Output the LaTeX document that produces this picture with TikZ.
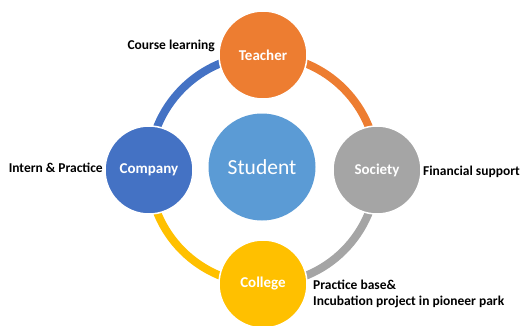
\documentclass[tikz,border=0pt]{standalone}
\usepackage{fontspec}
\setmainfont{Carlito}
\usepackage{xcolor}
\usepackage{tikz}
\usetikzlibrary{positioning, backgrounds}

\definecolor{teacherorange}{HTML}{ED7D31}
\definecolor{companyblue}{HTML}{4472C4}
\definecolor{societygray}{HTML}{A5A5A5}
\definecolor{collegegold}{HTML}{FFC000}
\definecolor{studentblue}{HTML}{5B9BD5}

\begin{document}
\begin{tikzpicture}[
    x=1pt, y=1pt,
    party/.style={
        circle,
        draw=white,
        line width=1.5pt,
        minimum size=88pt,
        text=white,
        font=\fontsize{15}{18}\selectfont\bfseries
    },
    ring/.style={
        line width=8pt
    },
    note/.style={
        font=\fontsize{13.5}{16}\selectfont\bfseries,
        align=left,
        inner sep=0pt
    }
]
  \useasboundingbox (0,0) rectangle (520,325);

  \node[circle, fill=studentblue, minimum size=107pt, text=white,
        font=\fontsize{21.5}{24}\selectfont] (student) at (262,158) {Student};
  \node[party, fill=teacherorange] (teacher) at (263,270) {Teacher};
  \node[party, fill=companyblue] (company) at (149,155) {Company};
  \node[party, fill=societygray] (society) at (377,155) {Society};
  \node[party, fill=collegegold] (college) at (263,41) {College};

  \node[note, anchor=east] (learning) at (215,279) {Course learning};
  \node[note, anchor=east] (intern) at (103,157) {Intern \& Practice};
  \node[note, anchor=west] (support) at (423,153) {Financial support};
  \node[note, anchor=north west] (base) at (313,45)
    {Practice base\&\\Incubation project in pioneer park};

  \begin{pgfonlayer}{background}
    \draw[ring, companyblue] (company.center) to[bend left=45] (teacher.center);
    \draw[ring, teacherorange] (teacher.center) to[bend left=45] (society.center);
    \draw[ring, societygray] (society.center) to[bend left=45] (college.center);
    \draw[ring, collegegold] (college.center) to[bend left=45] (company.center);
  \end{pgfonlayer}
\end{tikzpicture}
\end{document}
